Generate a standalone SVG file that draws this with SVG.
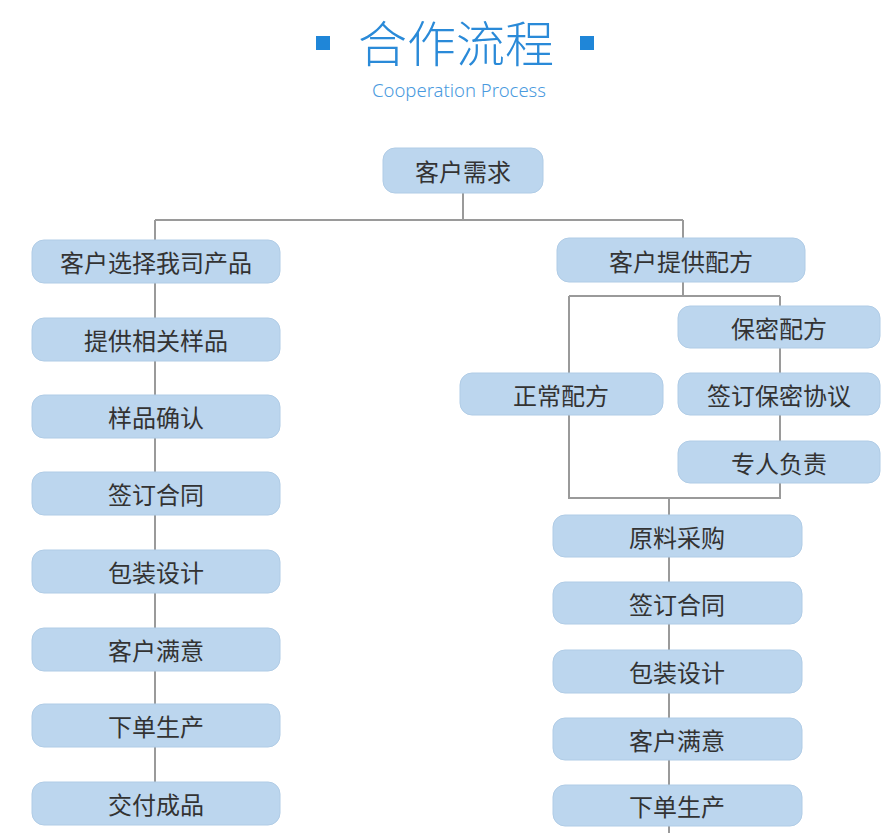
<svg xmlns="http://www.w3.org/2000/svg" width="896" height="833" viewBox="0 0 896 833">
<style>
.box{fill:#bcd6ee;stroke:#b0cce6;stroke-width:1}
.t{font-family:"Noto Sans CJK SC","Noto Sans",sans-serif;font-size:24px;fill:#333;text-anchor:middle;dominant-baseline:central}
.ln{stroke:#9a9a9a;stroke-width:2;fill:none}
</style>
<rect width="896" height="833" fill="#ffffff"/>
<g id="title">
<rect x="316" y="36" width="14" height="14" fill="#1f86d8"/>
<rect x="580" y="36" width="14" height="14" fill="#1f86d8"/>
<text x="456" y="62" font-family="'Noto Sans CJK SC',sans-serif" font-size="49" font-weight="300" fill="#2a8ad8" text-anchor="middle">合作流程</text>
<text x="459" y="97" font-family="'Noto Sans','Open Sans',sans-serif" font-size="18.5" font-weight="300" fill="#4a9ade" text-anchor="middle">Cooperation Process</text>
</g>
<g id="connectors">
<path class="ln" d="M463 193V220M155 220H683M155 220V782"/>
<path class="ln" d="M683 220V296M569 296H780M569 296V498H780V296M669 498V833"/>
</g>
<g id="n0"><rect class="box" x="383" y="148" width="160" height="45" rx="12"/><text class="t" x="463" y="170.5">客户需求</text></g>
<g id="l1"><rect class="box" x="32" y="240" width="248" height="43" rx="12"/><text class="t" x="156" y="261.5">客户选择我司产品</text></g>
<g id="l2"><rect class="box" x="32" y="318" width="248" height="43" rx="12"/><text class="t" x="156" y="339.5">提供相关样品</text></g>
<g id="l3"><rect class="box" x="32" y="395" width="248" height="43" rx="12"/><text class="t" x="156" y="416.5">样品确认</text></g>
<g id="l4"><rect class="box" x="32" y="472" width="248" height="43" rx="12"/><text class="t" x="156" y="493.5">签订合同</text></g>
<g id="l5"><rect class="box" x="32" y="550" width="248" height="43" rx="12"/><text class="t" x="156" y="571.5">包装设计</text></g>
<g id="l6"><rect class="box" x="32" y="628" width="248" height="43" rx="12"/><text class="t" x="156" y="649.5">客户满意</text></g>
<g id="l7"><rect class="box" x="32" y="704" width="248" height="43" rx="12"/><text class="t" x="156" y="725.5">下单生产</text></g>
<g id="l8"><rect class="box" x="32" y="782" width="248" height="43" rx="12"/><text class="t" x="156" y="803.5">交付成品</text></g>
<g id="r0"><rect class="box" x="557" y="238" width="248" height="44" rx="12"/><text class="t" x="681" y="260">客户提供配方</text></g>
<g id="s1"><rect class="box" x="678" y="306" width="202" height="42" rx="12"/><text class="t" x="779" y="327">保密配方</text></g>
<g id="s2"><rect class="box" x="678" y="373" width="202" height="42" rx="12"/><text class="t" x="779" y="394">签订保密协议</text></g>
<g id="s3"><rect class="box" x="678" y="441" width="202" height="42" rx="12"/><text class="t" x="779" y="462">专人负责</text></g>
<g id="s0"><rect class="box" x="460" y="373" width="203" height="42" rx="12"/><text class="t" x="561" y="394">正常配方</text></g>
<g id="r1"><rect class="box" x="553" y="515" width="249" height="42" rx="12"/><text class="t" x="677" y="536">原料采购</text></g>
<g id="r2"><rect class="box" x="553" y="582" width="249" height="42" rx="12"/><text class="t" x="677" y="603">签订合同</text></g>
<g id="r3"><rect class="box" x="553" y="650" width="249" height="43" rx="12"/><text class="t" x="677" y="671.5">包装设计</text></g>
<g id="r4"><rect class="box" x="553" y="718" width="249" height="42" rx="12"/><text class="t" x="677" y="739">客户满意</text></g>
<g id="r5"><rect class="box" x="553" y="785" width="249" height="41" rx="12"/><text class="t" x="677" y="805.5">下单生产</text></g>
</svg>
